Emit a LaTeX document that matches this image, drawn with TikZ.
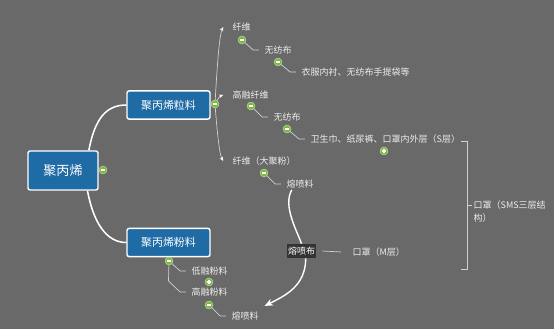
\documentclass[tikz,border=0pt]{standalone}
\usepackage{fontspec}
\newfontfamily\cjk{Noto Sans CJK SC}
\usetikzlibrary{arrows.meta, backgrounds}
\definecolor{canvas}{HTML}{696969}
\definecolor{topicblue}{HTML}{1F6BA5}
\definecolor{knob}{HTML}{7CB842}
\definecolor{twig}{HTML}{D0D0D0}
\definecolor{tagdark}{HTML}{333333}
\definecolor{paper}{HTML}{EDEDED}

\begin{document}
\begin{tikzpicture}[x=0.025cm, y=-0.025cm, font=\cjk,
    topic/.style={draw=white, line width=1pt, fill=topicblue, rounded corners=1.5pt, text=white, inner sep=1pt},
    mainsize/.style={minimum width=59pt, minimum height=20pt, font=\cjk\fontsize{7.8}{9}\selectfont},
    leaf/.style={anchor=west, text=paper, inner sep=1pt, font=\cjk\fontsize{6.4}{9.2}\selectfont},
    tag/.style={fill=tagdark, text=white, inner sep=1pt, minimum height=10pt, font=\cjk\fontsize{6.4}{8}\selectfont},
    knobminus/.style={circle, fill=knob, draw=knob!55!white, line width=0.4pt, minimum size=5.6pt, inner sep=0pt,
      path picture={\draw[white, line width=0.9pt] ([xshift=-1.7pt]path picture bounding box.center) -- ([xshift=1.7pt]path picture bounding box.center);}},
    knobplus/.style={circle, fill=knob, draw=knob!55!white, line width=0.4pt, minimum size=5.6pt, inner sep=0pt,
      path picture={\draw[white, line width=0.9pt] ([xshift=-1.7pt]path picture bounding box.center) -- ([xshift=1.7pt]path picture bounding box.center)
        ([yshift=-1.7pt]path picture bounding box.center) -- ([yshift=1.7pt]path picture bounding box.center);}},
    branch/.style={draw=white, line width=1.1pt},
    twig/.style={draw=twig, line width=0.5pt},
    pointer/.style={twig, -{Stealth[length=3pt, width=2.6pt, color=white]}},
    flow/.style={draw=white, line width=1pt}]

  % canvas
  \begin{scope}[on background layer]
    \fill[canvas] (0,0) rectangle (554,329);
  \end{scope}
  \useasboundingbox (0,0) rectangle (554,329);

  % central topic and the two main topics
  \node[topic, minimum width=49.8pt, minimum height=27.7pt, font=\cjk\fontsize{9.3}{11}\selectfont] (pp) at (63,170.5) {聚丙烯};
  \node[topic, mainsize] (pellet) at (168.5,105) {聚丙烯粒料};
  \node[topic, mainsize] (powder) at (168.5,242.5) {聚丙烯粉料};

  % pellet subtopics
  \node[leaf] (fiber) at (231,27) {纤维};
  \node[leaf] (nonwoven1) at (263,50) {无纺布};
  \node[leaf] (apparel) at (300,72) {衣服内衬、无纺布手提袋等};
  \node[leaf] (hmfiber) at (231,95) {高融纤维};
  \node[leaf] (nonwoven2) at (272,117) {无纺布};
  \node[leaf] (hygiene) at (309,139) {卫生巾、纸尿裤、口罩内外层（S层）};
  \node[leaf] (fiberpow) at (231,161) {纤维（大聚粉）};
  \node[leaf] (meltmat1) at (285,184) {熔喷料};

  % powder subtopics
  \node[leaf] (lmpowder) at (190,271) {低融粉料};
  \node[leaf] (hmpowder) at (190,292) {高融粉料};
  \node[leaf] (meltmat2) at (230,316) {熔喷料};

  % melt-blown cloth and masks
  \node[tag] (meltcloth) at (301.5,251) {熔喷布};
  \node[leaf] (maskm) at (351,252) {口罩（M层）};
  \node[leaf, align=left] (maskSMS) at (472,211.5) {口罩（SMS三层结\\构）};
  \coordinate (bt) at (467,141);
  \coordinate (bm) at (467,205);
  \coordinate (bb) at (467,269);

  % collapse knobs
  \node[knobminus] (kroot) at (103,170) {};
  \node[knobminus] (kpellet) at (215,104) {};
  \node[knobminus] (kpowder) at (169,261) {};
  \node[knobminus] (kfiber) at (242,40) {};
  \node[knobminus] (knon1) at (278,62) {};
  \node[knobminus] (khm) at (251,106) {};
  \node[knobminus] (knon2) at (287,129) {};
  \node[knobminus] (kfp) at (264,173) {};
  \node[knobminus] (khmp) at (209,305) {};
  \node[knobplus] (khyg) at (384,151) {};
  \node[knobplus] (klmp) at (209,282) {};

  \begin{scope}[on background layer]
    % main branches
    \draw[branch] ([xshift=-7pt]pp.north east) .. controls +(6,-32) and +(-20,0) .. (pellet.west);
    \draw[branch] ([xshift=-8pt]pp.south east) .. controls +(6,32) and +(-20,0) .. (powder.west);

    % pellet branch
    \draw[pointer] (kpellet.center) .. controls +(3,-55) and +(-3,6) .. ([xshift=-5.5pt]fiber.west);
    \draw[pointer] (kpellet.center) .. controls +(3,-6) and +(-3,1) .. ([xshift=-5.5pt]hmfiber.west);
    \draw[pointer] (kpellet.center) .. controls +(3,40) and +(-3,-5) .. ([xshift=-5.5pt]fiberpow.west);
    \draw[twig] (kfiber.center) -- ([xshift=-7pt]nonwoven1.west) -- ([xshift=-3pt]nonwoven1.west);
    \draw[twig] (knon1.center) -- ([xshift=-7pt]apparel.west) -- ([xshift=-3pt]apparel.west);
    \draw[twig] (khm.center) -- ([xshift=-7pt]nonwoven2.west) -- ([xshift=-3pt]nonwoven2.west);
    \draw[twig] (knon2.center) -- ([xshift=-7pt]hygiene.west) -- ([xshift=-3pt]hygiene.west);
    \draw[twig] (kfp.center) -- ([xshift=-7pt]meltmat1.west) -- ([xshift=-3pt]meltmat1.west);

    % powder branch
    \draw[twig] (kpowder.center) -- ([xshift=-7pt]lmpowder.west) -- ([xshift=-3pt]lmpowder.west);
    \draw[twig] (kpowder.center) -- ++(-0.5,20) -- ([xshift=-7pt]hmpowder.west) -- ([xshift=-3pt]hmpowder.west);
    \draw[twig] (khmp.center) -- ([xshift=-7pt]meltmat2.west) -- ([xshift=-3pt]meltmat2.west);

    % melt-blown relations
    \draw[flow] ([xshift=-6pt]meltmat1.south) .. controls +(-9,16) and +(-5,-14) .. (meltcloth.north);
    \draw[flow, -{Stealth[length=6pt, width=5pt]}] ([xshift=3pt]meltcloth.south) .. controls +(0,28) and +(20,-10) .. ([xshift=3pt, yshift=3pt]meltmat2.north east);
    \draw[twig] ([xshift=4pt]meltcloth.east) -- ([xshift=-7pt]maskm.west);

    % summary bracket
    \draw[twig] ([xshift=-4pt]bt) -- (bt) -- (bb) -- ([xshift=-4pt]bb);
    \draw[twig] (bm) -- (bm -| maskSMS.west);
  \end{scope}
\end{tikzpicture}
\end{document}
